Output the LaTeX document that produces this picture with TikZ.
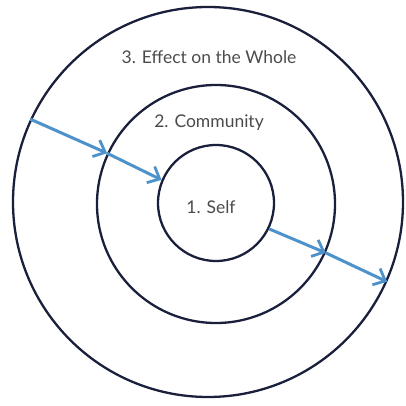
\documentclass[tikz,border=0pt]{standalone}
\usepackage{fontspec}
\setmainfont{Lato}
\usetikzlibrary{arrows.meta}
\definecolor{ringcol}{RGB}{26,32,60}
\definecolor{arrowcol}{RGB}{78,146,204}
\definecolor{textcol}{RGB}{75,75,75}
\tikzset{
  ring/.style={circle, draw=ringcol, line width=2.3pt, inner sep=0pt},
  lbl/.style={text=textcol, font=\fontsize{17.5}{20}\selectfont},
  flow/.style={draw=arrowcol, line width=3pt, -{Straight Barb[length=10pt,width=18pt,line width=2.8pt]}}
}
\begin{document}
\begin{tikzpicture}[x=1pt,y=-1pt]
\useasboundingbox (0,0) rectangle (405,406);
\node[ring, minimum size=390pt] (outer) at (208,202) {};
\node[ring, minimum size=238pt] (middle) at (216,204) {};
\node[ring, minimum size=116pt] (inner) at (216,203) {};
\node[lbl] (t3) at (209,57) {3. Effect on the Whole};
\node[lbl] (t2) at (209,123) {2. Community};
\node[lbl] (t1) at (211,207) {1. Self};
\coordinate (a0) at (outer.155);
\coordinate (a1) at (middle.155);
\coordinate (a2) at (inner.157);
\coordinate (b0) at (inner.-26);
\coordinate (b1) at (middle.-24);
\coordinate (b2) at (outer.-24);
\draw[flow] (a0) -- (a1);
\draw[flow] (a1) -- (a2);
\draw[flow] (b0) -- (b1);
\draw[flow] (b1) -- (b2);
\end{tikzpicture}
\end{document}
